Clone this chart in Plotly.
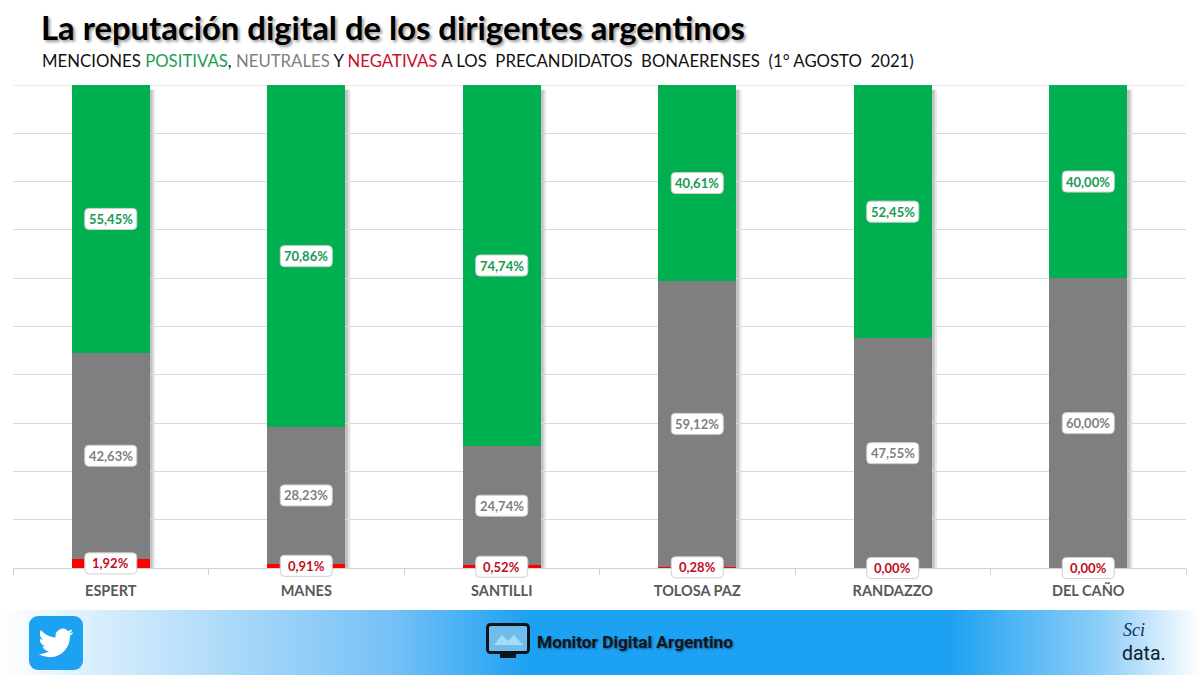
import base64
import plotly.graph_objects as go

# Data
candidatos = ['ESPERT', 'MANES', 'SANTILLI', 'TOLOSA PAZ', 'RANDAZZO', 'DEL CAÑO']
negativas = [1.92, 0.91, 0.52, 0.28, 0.00, 0.00]
neutrales = [42.63, 28.23, 24.74, 59.12, 47.55, 60.00]
positivas = [55.45, 70.86, 74.74, 40.61, 52.45, 40.00]

W, H = 1200, 675
FONT = 'Lato'
Y_BOTTOM = (H - 568) / H
Y_TOP = (H - 85) / H


def svg_uri(svg):
    return 'data:image/svg+xml;base64,' + base64.b64encode(svg.encode()).decode()


# Footer band with gradient, Twitter icon and monitor icon
footer_svg = f'''<svg xmlns="http://www.w3.org/2000/svg" width="{W}" height="65" viewBox="0 0 {W} 65">
<defs><linearGradient id="g" x1="0" x2="1" y1="0" y2="0">
<stop offset="0" stop-color="#ffffff"/><stop offset="0.09" stop-color="#d4ecfc"/>
<stop offset="0.33" stop-color="#74c0f6"/><stop offset="0.44" stop-color="#1da1f2"/>
<stop offset="0.79" stop-color="#1da1f2"/><stop offset="0.92" stop-color="#90cff8"/>
<stop offset="1" stop-color="#ffffff"/></linearGradient></defs>
<rect width="{W}" height="65" fill="url(#g)"/>
</svg>'''

twitter_svg = '''<svg xmlns="http://www.w3.org/2000/svg" width="54" height="54" viewBox="0 0 54 54">
<rect width="54" height="54" rx="9" fill="#1da1f2"/>
<g transform="translate(9.5,9.5) scale(1.46)"><path fill="#ffffff" d="M23.953 4.57a10 10 0 01-2.825.775 4.958 4.958 0 002.163-2.723c-.951.555-2.005.959-3.127 1.184a4.92 4.92 0 00-8.384 4.482C7.69 8.095 4.067 6.13 1.64 3.162a4.822 4.822 0 00-.666 2.475c0 1.71.87 3.213 2.188 4.096a4.904 4.904 0 01-2.228-.616v.06a4.923 4.923 0 003.946 4.827 4.996 4.996 0 01-2.212.085 4.936 4.936 0 004.604 3.417 9.867 9.867 0 01-6.102 2.105c-.39 0-.779-.023-1.17-.067a13.995 13.995 0 007.557 2.209c9.053 0 13.998-7.496 13.998-14.022 0-.21 0-.42-.015-.63A9.935 9.935 0 0024 4.59z"/></g>
</svg>'''

monitor_svg = '''<svg xmlns="http://www.w3.org/2000/svg" width="46" height="38" viewBox="0 0 46 38">
<rect x="1.5" y="1.5" width="41" height="28" rx="3" fill="#6fbdec" stroke="#10151c" stroke-width="3"/>
<rect x="14" y="31" width="16" height="4" fill="#10151c"/>
<path d="M8 22 L16 12 L22 18 L28 12 L37 22 Z" fill="#a8daf5"/>
</svg>'''

images = [
    dict(source=svg_uri(footer_svg), xref='paper', yref='paper', x=0, y=65 / H, sizex=1, sizey=65 / H,
         xanchor='left', yanchor='top', sizing='stretch', layer='below'),
    dict(source=svg_uri(twitter_svg), xref='paper', yref='paper', x=29 / W, y=(H - 616) / H, sizex=54 / W,
         sizey=54 / H, xanchor='left', yanchor='top', sizing='stretch', layer='above'),
    dict(source=svg_uri(monitor_svg), xref='paper', yref='paper', x=486 / W, y=(H - 623) / H, sizex=46 / W,
         sizey=38 / H, xanchor='left', yanchor='top', sizing='stretch', layer='above'),
]

fig = go.Figure()
fig.add_trace(go.Bar(x=candidatos, y=negativas, name='Negativas', marker=dict(color='#ff0000', line_width=0)))
fig.add_trace(go.Bar(x=candidatos, y=neutrales, name='Neutrales', marker=dict(color='#7f7f7f', line_width=0)))
fig.add_trace(go.Bar(x=candidatos, y=positivas, name='Positivas', marker=dict(color='#00b050', line_width=0)))

# Top gridline, plotly drops the one on the edge of the range
shapes = [dict(type='line', xref='paper', yref='y', x0=13 / W, x1=1186 / W, y0=100, y1=100,
               line=dict(color='#d9d9d9', width=1), layer='below')]
annotations = []

# Soft shadow on the right of each bar, rounded label boxes and their values
box = 'M-22,-10.5 L22,-10.5 Q26,-10.5 26,-6.5 L26,6.5 Q26,10.5 22,10.5 L-22,10.5 Q-26,10.5 -26,6.5 L-26,-6.5 Q-26,-10.5 -22,-10.5 Z'
for i, nombre in enumerate(candidatos):
    for ancho, alpha in [(0.012, 0.25), (0.024, 0.15)]:
        shapes.append(dict(type='rect', xref='x', yref='y', x0=i + 0.19, x1=i + 0.202 + ancho, y0=0, y1=99,
                           fillcolor=f'rgba(90,90,90,{alpha})', line_width=0, layer='below'))
    base = 0
    for valores, color in [(negativas, '#c00d1e'), (neutrales, '#7f7f7f'), (positivas, '#169a50')]:
        v = valores[i]
        centro = base + v / 2
        # yref paper so the boxes at 0,00% are not clipped by the plot area
        shapes.append(dict(type='path', xref='x', yref='paper', xsizemode='pixel', ysizemode='pixel',
                           xanchor=nombre, yanchor=Y_BOTTOM + (Y_TOP - Y_BOTTOM) * centro / 100, path=box,
                           fillcolor='white', line=dict(color='#cfcfcf', width=1), layer='above'))
        annotations.append(dict(x=nombre, y=centro, xref='x', yref='y', showarrow=False,
                                text=f'<b>{v:.2f}%</b>'.replace('.', ','),
                                font=dict(family=FONT, size=13, color=color)))
        base += v

# Title and subtitle
annotations.append(dict(x=39 / W, y=(H - 27) / H, xref='paper', yref='paper', xanchor='left', yanchor='middle',
                        showarrow=False, text='<b>La reputación digital de los dirigentes argentinos</b>',
                        font=dict(family=FONT, size=32.8, color='#000000', shadow='2px 2px 3px #999999')))
annotations.append(dict(x=40 / W, y=(H - 60) / H, xref='paper', yref='paper', xanchor='left', yanchor='middle',
                        showarrow=False,
                        text='MENCIONES <span style="color:#1f9d55">POSITIVAS</span>, '
                             '<span style="color:#7f7f7f">NEUTRALES</span> Y '
                             '<span style="color:#c8102e">NEGATIVAS</span> A LOS  PRECANDIDATOS  BONAERENSES  (1° AGOSTO  2021)',
                        font=dict(family=FONT, size=16.75, color='#111111')))

# Footer texts
annotations.append(dict(x=535 / W, y=(H - 642) / H, xref='paper', yref='paper', xanchor='left', yanchor='middle',
                        showarrow=False, text='<b>Monitor Digital Argentino</b>',
                        font=dict(family='Roboto', size=17.3, color='#10151c', shadow='1px 1px 2px #0b5f96')))
annotations.append(dict(x=1121 / W, y=(H - 630) / H, xref='paper', yref='paper', xanchor='left', yanchor='middle',
                        showarrow=False, text='<i>Sci</i>',
                        font=dict(family='Liberation Serif', size=18, color='#14305c')))
annotations.append(dict(x=1120 / W, y=(H - 653) / H, xref='paper', yref='paper', xanchor='left', yanchor='middle',
                        showarrow=False, text='data.',
                        font=dict(family='Roboto', size=19.5, color='#10202f')))

fig.update_layout(
    width=W, height=H,
    barmode='stack', bargap=0.6,
    showlegend=False,
    paper_bgcolor='white', plot_bgcolor='white',
    margin=dict(l=0, r=0, t=0, b=0),
    images=images, shapes=shapes, annotations=annotations,
    hovermode=False,
)
fig.update_xaxes(domain=[13 / W, 1186 / W], type='category', tickson='boundaries', ticks='outside', ticklen=6,
                 tickcolor='#d0d0d0', showline=True, linecolor='#d0d0d0', showgrid=False, ticklabelstandoff=10,
                 tickfont=dict(family=FONT, size=14.5, color='#595959', weight=700))
fig.update_yaxes(domain=[Y_BOTTOM, Y_TOP], range=[0, 100], dtick=10, showticklabels=False, ticks='',
                 gridcolor='#d9d9d9', gridwidth=1, zeroline=False)

# The browser's default body margin would shift the whole picture
fig.write_html('out.html', config=dict(displayModeBar=False),
               post_script="document.body.style.margin='0';document.body.style.overflow='hidden';")
